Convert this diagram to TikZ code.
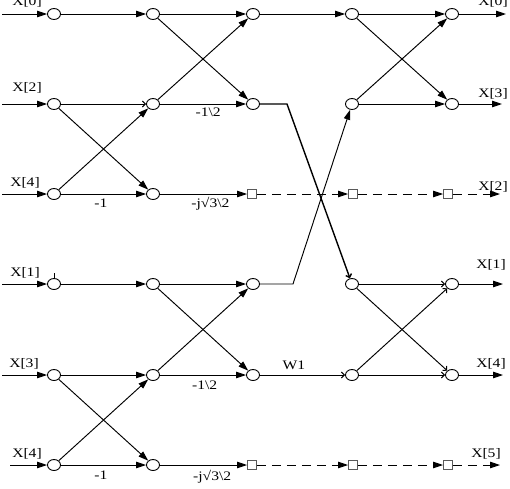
\documentclass[tikz,border=0pt]{standalone}
\usepackage{fontspec}
\setmainfont[FakeStretch=1.2]{Liberation Serif}
\usetikzlibrary{arrows.meta,shapes.geometric}
\begin{document}
\begin{tikzpicture}[x=1pt,y=-1pt,
 nd/.style={ellipse,draw,fill=white,minimum width=13pt,minimum height=11pt,inner sep=0pt,line width=0.9pt},
 sq/.style={rectangle,draw=black!65,fill=white,minimum size=9pt,inner sep=0pt,line width=0.9pt},
 ar/.style={line width=0.95pt,-{Triangle[length=10pt,width=6.5pt]}},
 oar/.style={line width=0.95pt,-{Straight Barb[length=3pt,width=6pt]}},
 dar/.style={ar,dash pattern=on 9pt off 6pt},
 lbl/.style={font=\fontsize{13}{15}\selectfont,inner sep=0pt}
]
\useasboundingbox (0,0) rectangle (510,488);
% input/output points
\coordinate (in0) at (2,14);
\coordinate (in1) at (2,104);
\coordinate (in2) at (2,194);
\coordinate (in3) at (2,284);
\coordinate (in4) at (2,375);
\coordinate (in5) at (10,465);
\coordinate (o0) at (506,14);
\coordinate (o1) at (502,104);
\coordinate (o2) at (500,194);
\coordinate (o3) at (503,284);
\coordinate (o4) at (503,375);
\coordinate (o5) at (500,465);
\coordinate (b1) at (287,104);
\coordinate (b2) at (293,284);
% circles
\foreach \r/\y in {0/14,1/104,2/194,3/284,4/375,5/465}{
  \node[nd] (c0\r) at (54,\y) {};
  \node[nd] (c1\r) at (153,\y) {};
}
\foreach \r/\y in {0/14,1/104,3/284,4/375}{
  \node[nd] (c2\r) at (253,\y) {};
  \node[nd] (c3\r) at (352,\y) {};
  \node[nd] (c4\r) at (452,\y) {};
}
\foreach \r/\y in {2/194,5/465}{
  \node[sq] (s2\r) at (252,\y) {};
  \node[sq] (s3\r) at (353,\y) {};
  \node[sq] (s4\r) at (448,\y) {};
}
% inputs
\foreach \r in {0,...,5}{ \draw[ar] (in\r) -- (c0\r); }
\draw[line width=0.8pt] (c03.north) -- ++(0,-5);
% first stage, top
\draw[ar] (c00) -- (c10);
\draw[oar] (c01) -- (c11);
\draw[ar] (c01) -- (c12);
\draw[ar] (c02) -- (c11);
\draw[ar] (c02) -- node[lbl,below=4pt,pos=0.47] {-1} (c12);
% first stage, bottom
\draw[ar] (c03) -- (c13);
\draw[ar] (c04) -- (c14);
\draw[ar] (c04) -- (c15);
\draw[ar] (c05) -- (c14);
\draw[ar] (c05) -- node[lbl,below=5pt,pos=0.47] {-1} (c15);
% second stage, top
\draw[ar] (c10) -- (c20);
\draw[ar] (c10) -- (c21);
\draw[ar] (c11) -- (c20);
\draw[ar] (c11) -- node[lbl,below=3pt,pos=0.56] {-1\textbackslash 2} (c21);
\draw[ar] (c12) -- node[lbl,below=3pt,pos=0.58] {-j√3\textbackslash 2} (s22);
% second stage, bottom
\draw[ar] (c13) -- (c23);
\draw[ar] (c13) -- (c24);
\draw[ar] (c14) -- (c23);
\draw[ar] (c14) -- node[lbl,below=5pt,pos=0.52] {-1\textbackslash 2} (c24);
\draw[ar] (c15) -- node[lbl,below=5pt,pos=0.6] {-j√3\textbackslash 2} (s25);
% third stage
\draw[ar] (c20) -- (c30);
\draw[oar,line width=1.4pt] (c21) -- (b1) -- (c33);
\draw[ar] (c23) -- (b2) -- (c31);
\draw[oar] (c24) -- node[lbl,above=5pt,pos=0.4] {W1} (c34);
\draw[dar] (s22) -- (s32);
\draw[dar] (s25) -- (s35);
% fourth stage
\draw[ar] (c30) -- (c40);
\draw[ar] (c30) -- (c41);
\draw[ar] (c31) -- (c40);
\draw[ar] (c31) -- (c41);
\draw[oar] (c33) -- (c43);
\draw[oar] (c33) -- (c44);
\draw[oar] (c34) -- (c43);
\draw[oar] (c34) -- (c44);
\draw[dar] (s32) -- (s42);
\draw[dar] (s35) -- (s45);
% outputs
\draw[ar] (c40) -- (o0);
\draw[ar] (c41) -- (o1);
\draw[dar] (s42) -- (o2);
\draw[ar] (c43) -- (o3);
\draw[ar] (c44) -- (o4);
\draw[dar] (s45) -- (o5);
% input labels
\node[lbl] (lx0) at (27,2) {X[0]};
\node[lbl] (lx2) at (27,88) {X[2]};
\node[lbl] (lx4) at (25,183) {X[4]};
\node[lbl] (lx1) at (25,273) {X[1]};
\node[lbl] (lx3) at (24,364) {X[3]};
\node[lbl] (lx4b) at (27,454) {X[4]};
% output labels
\node[lbl] (ly0) at (493,2) {X[0]};
\node[lbl] (ly3) at (493,94) {X[3]};
\node[lbl] (ly2) at (493,187) {X[2]};
\node[lbl] (ly1) at (491,265) {X[1]};
\node[lbl] (ly4) at (491,364) {X[4]};
\node[lbl] (ly5) at (486,454) {X[5]};
\end{tikzpicture}
\end{document}
